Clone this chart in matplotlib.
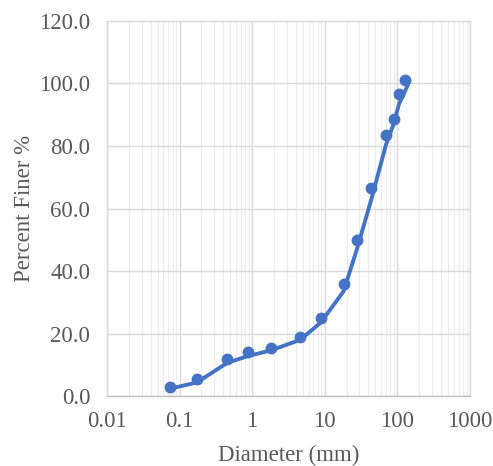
import matplotlib.pyplot as plt
from matplotlib.ticker import LogLocator, FixedLocator, FuncFormatter

# sieve data (markers)
diam = [0.075, 0.175, 0.45, 0.87, 1.8, 4.6, 8.8, 18.2, 27.8, 44, 70, 89, 106, 128]
finer = [3.0, 5.4, 11.8, 14.2, 15.5, 19.0, 25.1, 35.9, 49.9, 66.7, 83.5, 88.6, 96.5, 101.0]

# fitted curve (line)
curve_d = [0.075, 0.175, 0.45, 0.87, 1.8, 4.6, 8.8, 18.2, 27.8, 44, 70, 89, 106, 140]
curve_p = [2.4, 4.4, 10.6, 12.8, 14.6, 18.0, 23.5, 33.5, 47.0, 63.0, 80.5, 87.0, 93.5, 99.5]

xticks = [0.01, 0.1, 1, 10, 100, 1000]
xlabels = ["0.01", "0.1", "1", "10", "100", "1000"]
yticks = [0, 20, 40, 60, 80, 100, 120]

blue = "#4472C4"
txt = "#595959"
font = "Liberation Serif"
fs = 16.5

fig = plt.figure(figsize=(4.93, 4.66), dpi=100)
ax = fig.add_axes([0.217, 0.150, 0.736, 0.805])

ax.set_xscale("log")
ax.set_xlim(0.01, 1000)
ax.set_ylim(0, 120)

ax.xaxis.set_major_locator(FixedLocator(xticks))
ax.xaxis.set_minor_locator(LogLocator(base=10, subs=range(2, 10)))
ax.set_xticks(xticks)
ax.set_xticklabels(xlabels)
ax.set_yticks(yticks)
ax.yaxis.set_major_formatter(FuncFormatter(lambda v, p: f"{v:.1f}"))

ax.grid(True, which="major", color="#d9d9d9", linewidth=1.0)
ax.grid(True, which="minor", axis="x", color="#ececec", linewidth=0.8)
ax.set_axisbelow(True)

ax.plot(curve_d, curve_p, color=blue, linewidth=2.8, solid_joinstyle="round",
        solid_capstyle="round", zorder=3)
ax.plot(diam, finer, linestyle="none", marker="o", markersize=7.5,
        color=blue, zorder=4)

for s in ax.spines.values():
    s.set_color("#d9d9d9")
    s.set_linewidth(1.0)
ax.spines["bottom"].set_color("#bfbfbf")

ax.tick_params(axis="y", which="both", length=0, colors=txt, labelsize=fs, pad=12)
ax.tick_params(axis="x", which="both", length=0, colors=txt, labelsize=fs, pad=11)
for lab in ax.get_xticklabels() + ax.get_yticklabels():
    lab.set_fontfamily(font)

ax.set_xlabel("Diameter (mm)", fontsize=fs, color=txt, fontfamily=font, labelpad=9)
ax.set_ylabel("Percent Finer %", fontsize=fs, color=txt, fontfamily=font, labelpad=3)

fig.savefig("out.png", dpi=100)
